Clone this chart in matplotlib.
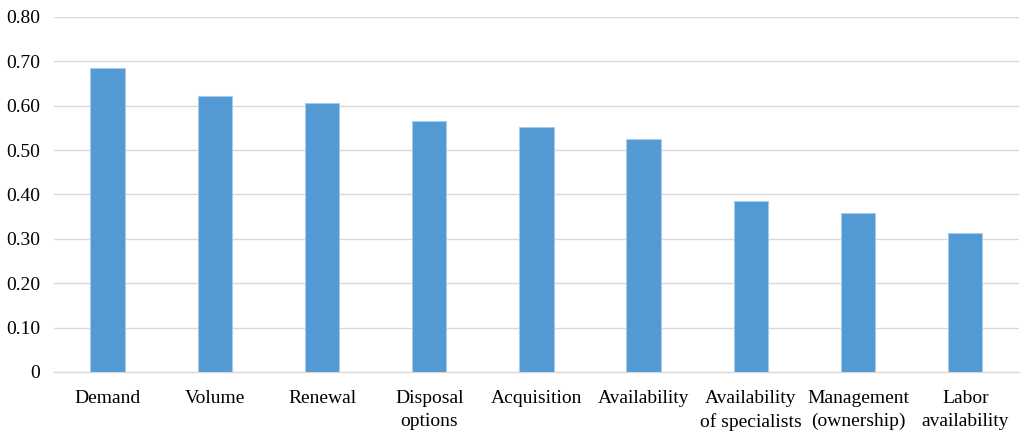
import matplotlib
matplotlib.use("Agg")
import matplotlib.pyplot as plt
from matplotlib.ticker import FuncFormatter

categories = ["Demand", "Volume", "Renewal", "Disposal\noptions", "Acquisition",
              "Availability", "Availability\nof specialists", "Management\n(ownership)",
              "Labor\navailability"]
values = [0.686, 0.621, 0.607, 0.565, 0.552, 0.526, 0.386, 0.359, 0.313]
y_ticks = [0, 0.1, 0.2, 0.3, 0.4, 0.5, 0.6, 0.7, 0.8]

plt.rcParams["font.family"] = ["Liberation Serif", "DejaVu Serif"]

fig = plt.figure(figsize=(10.25, 4.34), dpi=100)
ax = fig.add_axes([0.0527, 0.1429, 0.9413, 0.8181])

x = range(len(categories))
ax.bar(x, values, width=0.32, color="#5399D3", edgecolor="#A9CBEA", linewidth=0.8, zorder=3)

ax.set_xlim(-0.5, len(categories) - 0.5)
ax.set_ylim(0, 0.8)
ax.set_yticks(y_ticks)
ax.yaxis.set_major_formatter(FuncFormatter(lambda v, p: "0" if v == 0 else f"{v:.2f}"))
ax.set_xticks(list(x))
ax.set_xticklabels(categories, fontsize=14, linespacing=1.45)

ax.grid(axis="y", color="#D9D9D9", linewidth=1.0, zorder=0)
for side in ("top", "right", "left"):
    ax.spines[side].set_visible(False)
ax.spines["bottom"].set_color("#D9D9D9")
ax.spines["bottom"].set_linewidth(1.0)
ax.tick_params(axis="both", length=0, labelsize=14, colors="black")
ax.tick_params(axis="x", pad=13)
ax.tick_params(axis="y", pad=10)

fig.savefig("out.png", dpi=100)
